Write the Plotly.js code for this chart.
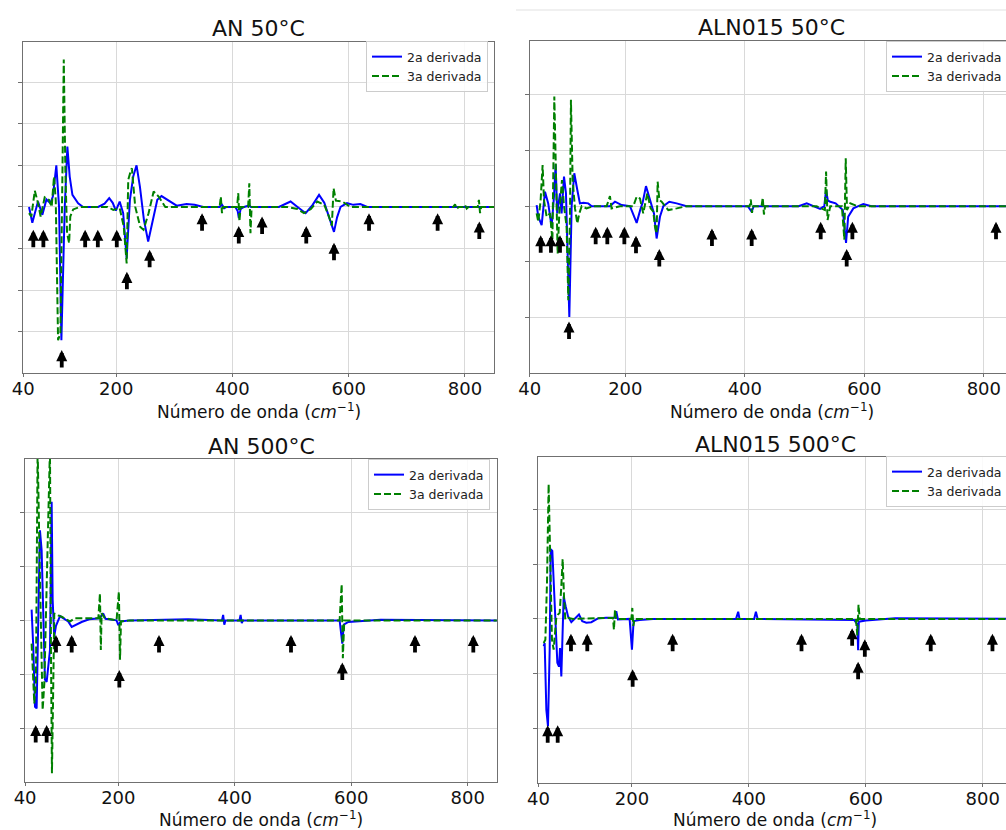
<!DOCTYPE html>
<html>
<head>
<meta charset="utf-8">
<script src="https://cdn.plot.ly/plotly-3.0.1.min.js"></script>
<style>
html,body{margin:0;padding:0;overflow:hidden;background:#ffffff;}
#chart{width:1030px;height:830px;}
</style>
</head>
<body>
<div id="chart"></div>
<script>
// ---------------- DATA ----------------
const xTickVals = [40, 200, 400, 600, 800];
const xTickText = ["40", "200", "400", "600", "800"];
const seriesNames = ["2a derivada", "3a derivada"];
const panelTitles = ["AN 50°C", "ALN015 50°C", "AN 500°C", "ALN015 500°C"];

// AN 50°C
const an50_d2 = [[50,0],[55.7,-0.38],[60,-0.15],[65.5,0.13],[73,-0.19],[80,0.18],[86.8,0.09],[91,0.25],[97,1.0],[101.7,0],
  [105.7,-3.2],[111.5,0],[116,1.45],[120,0.73],[124.7,0.29],[134.5,0.09],[143,0],[169,0],[180,0.08],[188,0.21],
  [194,0.1],[199.4,-0.09],[206,0.13],[212,-0.15],[218,-1.23],[223.6,0.17],[229.3,0.73],[235,1.0],[240.8,0.49],[247.7,-0.31],
  [255,-0.83],[263.8,-0.23],[270.7,0.17],[278,0.26],[289.7,0.15],[304,0.03],[321,0.07],[335,0.05],[350,0],[378,0],
  [382,0.05],[386,-0.03],[390,0],[405,0],[409,-0.1],[411,-0.27],[414,-0.05],[420,0],[428,0.03],[432,0],
  [480,0],[500,0.13],[512,0],[526,-0.15],[538,0.05],[549,0.29],[558,0.1],[565,-0.2],[574.7,-0.6],[580,-0.25],
  [586,0],[597,0.09],[608,0.05],[620,0.07],[632,0],[650,0],[850,0]];
const an50_d3 = [[50,-0.15],[54,-0.23],[60,0.39],[65.5,0.09],[70,-0.23],[77,0.23],[84.5,0.17],[89,0],[93,0.73],[96,0.17],
  [100,-3.2],[104,-3.04],[107.5,0.81],[109.8,3.54],[112.6,0.81],[115.5,-0.63],[119,-0.87],[121,-0.23],[126,-0.06],[137,0],
  [185,0],[195,-0.07],[206,-0.03],[213,-0.47],[218,-1.36],[220.7,0.65],[224.7,0.85],[227,0.93],[229,0.6],[232.8,0],
  [241.4,-0.48],[247,-0.55],[255.7,-0.15],[264.4,0.37],[273,0.25],[284.5,0],[378,0],[380,0.25],[382,-0.15],[384,0],
  [408,0],[410,0.33],[412,-0.35],[414,0],[427,0],[429,0.57],[431,-0.63],[433,0],[494,0],[512,-0.05],
  [523,-0.15],[535,-0.05],[546,0.13],[558,0.05],[566,-0.23],[571,-0.45],[574,0.45],[578,0.15],[589,0.13],[603,0],
  [780,0],[783,0.06],[786,-0.05],[789,0],[797,0],[800,0.05],[803,-0.04],[806,0],[822,0],[824,0.17],[826,-0.15],[828,0],[850,0]];
const an50_arrows = [[57.4,-0.55],[74.7,-0.55],[106.3,-3.44],[146.6,-0.55],[168.4,-0.55],[201,-0.55],[218.4,-1.56],[257.5,-1.03],
  [347.7,-0.15],[410.9,-0.46],[451,-0.23],[527,-0.46],[574.7,-0.86],[635,-0.15],[753,-0.15],[824.7,-0.35]];

// ALN015 50°C
const aln50_d2 = [[51.6,0.02],[54.4,-0.19],[60,-0.34],[65.6,0.26],[71,0.05],[76.7,-0.37],[80.6,0.17],[83.4,0.75],[86,-0.13],[90.7,0.23],
  [93.4,-0.13],[97.4,0.53],[100.7,0.23],[106.3,-1.99],[110.2,0],[114.6,0.59],[119.7,0.29],[124,0.05],[129.7,0.06],[138,0.05],
  [143.7,0],[157.6,0],[174,0],[182.7,0.08],[194,0.02],[207.8,0],[219,-0.3],[225.7,-0.04],[229,0.06],[234.6,0.36],
  [241.3,0.11],[248,-0.13],[252.4,-0.58],[258,-0.19],[263.6,0],[273.6,0.08],[286,0.05],[302.6,0],[405,0],[411.5,-0.1],
  [415,0],[490,0],[503.6,0.05],[526,-0.05],[533,0],[536,0.29],[539,0.1],[543,0.08],[552,0.05],[564,-0.07],
  [569.4,-0.66],[573,-0.19],[581.6,-0.04],[598.3,0.04],[612,0],[850,0]];
const aln50_d3 = [[51.6,-0.13],[54.4,-0.28],[58.3,0.11],[61.6,0.74],[63.9,0.11],[68.3,-0.19],[74,-0.13],[78,-0.61],[81.2,1.97],[84,0.29],
  [86.8,-0.85],[89.5,-0.13],[94,0.47],[97.4,0],[101.8,-0.37],[104.6,-1.69],[107.4,-0.19],[109,1.91],[111.9,0.47],[115.8,-0.04],
  [119.7,-0.31],[123,-0.13],[127,0],[135,-0.04],[146.4,0],[168.8,0],[174.3,0.18],[177,-0.04],[191,0],[213.4,0],
  [219,0.17],[224.5,0.14],[230,-0.13],[236.8,0.23],[242.4,-0.04],[246.9,-0.1],[249.7,-0.37],[252.4,-0.49],[254.1,0.44],[257,0.11],
  [260.8,0.08],[266.4,0],[272,-0.07],[286,-0.04],[302.6,0],[408,0],[410,0.12],[412,-0.12],[414,0],[428,0],
  [430,0.15],[432,-0.15],[434,0],[520,0],[534,-0.07],[536,0.62],[538.5,-0.25],[543,0],[562.4,0],[566.6,-0.6],
  [568.9,0.86],[571,-0.07],[576.5,0.05],[588,0],[850,0]];
const aln50_arrows = [[58.4,-0.52],[75.6,-0.52],[90.7,-0.52],[105.8,-2.07],[150.4,-0.37],[169.9,-0.37],[198.4,-0.37],[217.9,-0.53],
  [256.9,-0.77],[345,-0.4],[411.5,-0.4],[527,-0.28],[570.5,-0.77],[580,-0.28],[820.4,-0.28]];

// AN 500°C
const an500_d2 = [[51.2,0.2],[54,-0.49],[57,-1.6],[59.8,-1.63],[62.7,0.07],[65.5,1.67],[68.4,1.3],[71.2,0.19],[74.1,-1.1],[77,-1.14],
  [79.8,-0.8],[82.7,-0.55],[85.6,2.2],[87.3,0.38],[90,-0.3],[93,-0.1],[100,0.08],[108,0.03],[114,-0.02],[120,-0.12],
  [137,-0.03],[150,0.02],[168,0.04],[174,0.13],[178,0.03],[197,0],[200,-0.09],[204,-0.02],[220,0],[320,0.02],
  [378,0],[380,0.1],[382,-0.08],[384,0],[408,0],[410,0.1],[412,-0.05],[414,0],[580,0],[584.6,-0.43],
  [587,-0.08],[595,-0.03],[650,0.01],[850,0]];
const an500_d3 = [[51.2,-0.43],[55.8,-1.54],[58.6,-1.17],[61.5,3.2],[64.4,1.43],[67.2,0.07],[70.1,-1.66],[73,-1.17],[77,0.44],[79.8,1.92],
  [82.7,3.2],[84.4,-0.55],[86.1,-2.83],[88.4,-1.17],[90.1,0.13],[94,0.1],[102.7,0.07],[117,-0.02],[125.6,0.04],[145.6,0.04],
  [165.7,0.04],[168.5,0.5],[170,-0.55],[171.4,0.13],[177,0.04],[197,0],[201,0.53],[203,-0.73],[204.6,-0.02],[220,0],
  [580,0],[583.5,0.67],[585.5,-0.7],[588,0],[850,0]];
const an500_arrows = [[58.2,-1.94],[77,-1.94],[93,-0.27],[120,-0.27],[201.8,-0.92],[269.9,-0.27],[496.5,-0.27],[584.6,-0.78],
  [709.4,-0.27],[809.5,-0.27]];

// ALN015 500°C
const aln500_d2 = [[49,-0.5],[50.7,-0.44],[53.6,-1.66],[56.4,-1.96],[59.3,-0.56],[61,1.27],[63.8,1.24],[66.7,0.54],[69.5,-0.32],[72.4,-0.8],
  [75.2,-0.87],[77,-0.53],[79.2,-1.05],[80.9,-0.32],[83.2,0.41],[86.6,0.23],[90.6,0.05],[96.3,-0.06],[102,0],[109.4,0.08],
  [115,-0.04],[122,-0.07],[130.5,-0.06],[141.9,0.01],[156,0.02],[170.4,0.02],[173.2,0.14],[176,-0.01],[196,0],[200,-0.56],
  [202.8,-0.04],[213,-0.02],[236,0],[378,0],[381.7,0.13],[384,0],[409,0],[412,0.13],[415,0],[580,-0.02],
  [585.5,-0.1],[586.8,-0.57],[588,-0.05],[600,-0.03],[650,0.01],[850,0]];
const aln500_d3 = [[49,-0.44],[51.9,-0.38],[54.7,0.66],[56.4,1.88],[57.5,2.46],[59.3,1.57],[61,0.48],[63.2,-0.38],[66.1,-0.56],[68.4,-0.26],
  [70.6,0.02],[73.5,0.08],[76.4,0.11],[79.2,0.6],[81.5,1.09],[83.8,0.41],[86,-0.01],[90.6,0.02],[99,0],[167.5,0.02],
  [169.2,-0.2],[171,0.17],[173,0],[199,0],[200.6,0.2],[202.3,-0.13],[204.6,0],[583,0],[585.5,-0.3],[587.5,0.26],
  [589.5,0],[850,0]];
const aln500_arrows = [[55.9,-1.94],[73,-1.94],[95.7,-0.27],[123.6,-0.27],[201.2,-0.92],[269.6,-0.27],[490,-0.27],[576.6,-0.17],
  [586.8,-0.78],[598.3,-0.37],[711,-0.27],[816.6,-0.27]];

// ---------------- LAYOUT / STYLE ----------------
const W = 1030, H = 830;
const fx = p => p / W;
const fy = p => 1 - p / H;

const panels = [
  {d2: an50_d2, d3: an50_d3, arrows: an50_arrows, sfx: "",  xd: [23.2, 494],   yd: [41.7, 373],   yr: [-3.99, 3.97], ytv: [-3,-2,-1,0,1,2,3], legR: 488,  legT: 41,  titleY: 28.5, axY: 410.5},
  {d2: aln50_d2, d3: aln50_d3, arrows: aln50_arrows, sfx: "2", xd: [529.7, 1013.7], yd: [40.7, 373.3], yr: [-3.0, 2.97], ytv: [-2,-1,0,1,2], legR: 1008, legT: 41,  titleY: 27.5, axY: 410.5},
  {d2: an500_d2, d3: an500_d3, arrows: an500_arrows, sfx: "3", xd: [25.1, 496.9], yd: [459, 782.3], yr: [-3.0, 2.99], ytv: [-2,-1,0,1,2], legR: 490,  legT: 459, titleY: 446,  axY: 818.5},
  {d2: aln500_d2, d3: aln500_d3, arrows: aln500_arrows, sfx: "4", xd: [538.4, 1012], yd: [456.7, 783.3], yr: [-3.0, 2.96], ytv: [-2,-1,0,1,2], legR: 1008, legT: 456, titleY: 444,  axY: 818.5}
];

const FONT = "DejaVu Sans, Verdana, sans-serif";
const traces = [];
const annotations = [];
const layout = {
  width: W, height: H,
  margin: {l: 0, r: 0, t: 0, b: 0},
  paper_bgcolor: "#ffffff",
  plot_bgcolor: "#ffffff",
  font: {family: FONT, color: "#111111"},
  shapes: [{type: "line", xref: "paper", yref: "paper", x0: fx(516), x1: 1, y0: fy(10), y1: fy(10),
            line: {color: "#f0f0f0", width: 2}}],
  annotations: annotations
};

panels.forEach((p, i) => {
  const xa = "x" + p.sfx, ya = "y" + p.sfx;
  const legName = "legend" + p.sfx;
  traces.push({
    x: p.d2.map(v => v[0]), y: p.d2.map(v => v[1]),
    xaxis: xa, yaxis: ya, type: "scatter", mode: "lines",
    name: seriesNames[0], legend: legName,
    line: {color: "#0000ff", width: 2}
  });
  traces.push({
    x: p.d3.map(v => v[0]), y: p.d3.map(v => v[1]),
    xaxis: xa, yaxis: ya, type: "scatter", mode: "lines",
    name: seriesNames[1], legend: legName,
    line: {color: "#008000", width: 2, dash: "7px,3px"}
  });

  layout["xaxis" + p.sfx] = {
    domain: [fx(p.xd[0]), fx(p.xd[1])],
    anchor: ya, range: [40, 850],
    tickmode: "array", tickvals: xTickVals, ticktext: xTickText,
    showgrid: true, gridcolor: "#d9d9d9", gridwidth: 1,
    zeroline: false, showline: true, mirror: true,
    linecolor: "#707070", linewidth: 1,
    ticks: "outside", ticklen: 3, tickcolor: "#707070",
    ticklabelstandoff: -4,
    tickfont: {family: FONT, size: 18, color: "#111111"},
    fixedrange: true
  };
  layout["yaxis" + p.sfx] = {
    domain: [fy(p.yd[1]), fy(p.yd[0])],
    anchor: xa, range: p.yr,
    tickmode: "array", tickvals: p.ytv,
    showticklabels: false,
    showgrid: true, gridcolor: "#d9d9d9", gridwidth: 1,
    zeroline: false, showline: true, mirror: true,
    linecolor: "#707070", linewidth: 1,
    ticks: "outside", ticklen: 4, tickcolor: "#707070",
    fixedrange: true
  };
  layout[legName] = {
    x: fx(p.legR), y: fy(p.legT), xanchor: "right", yanchor: "top",
    xref: "paper", yref: "paper",
    bgcolor: "rgba(255,255,255,0.85)", bordercolor: "#cccccc", borderwidth: 1,
    font: {family: FONT, size: 12.5, color: "#222222"},
    tracegroupgap: 0, itemwidth: 30
  };

  const cx = fx((p.xd[0] + p.xd[1]) / 2);
  annotations.push({
    xref: "paper", yref: "paper", x: cx, y: fy(p.titleY),
    xanchor: "center", yanchor: "middle", showarrow: false,
    text: panelTitles[i], font: {family: FONT, size: 22, color: "#111111"}
  });
  annotations.push({
    xref: "paper", yref: "paper", x: cx, y: fy(p.axY),
    xanchor: "center", yanchor: "middle", showarrow: false,
    text: "Número de onda (<i>cm</i><sup>−1</sup>)",
    font: {family: FONT, size: 17, color: "#111111"}
  });
  p.arrows.forEach(a => {
    annotations.push({
      xref: xa, yref: ya, x: a[0], y: a[1],
      ax: 0, ay: 19, text: "", showarrow: true,
      arrowhead: 2, arrowsize: 0.58, arrowwidth: 3.8, arrowcolor: "#000000",
      standoff: 0, startstandoff: 0
    });
  });
});

Plotly.newPlot("chart", traces, layout, {displayModeBar: false, staticPlot: true, responsive: false});
</script>
</body>
</html>
